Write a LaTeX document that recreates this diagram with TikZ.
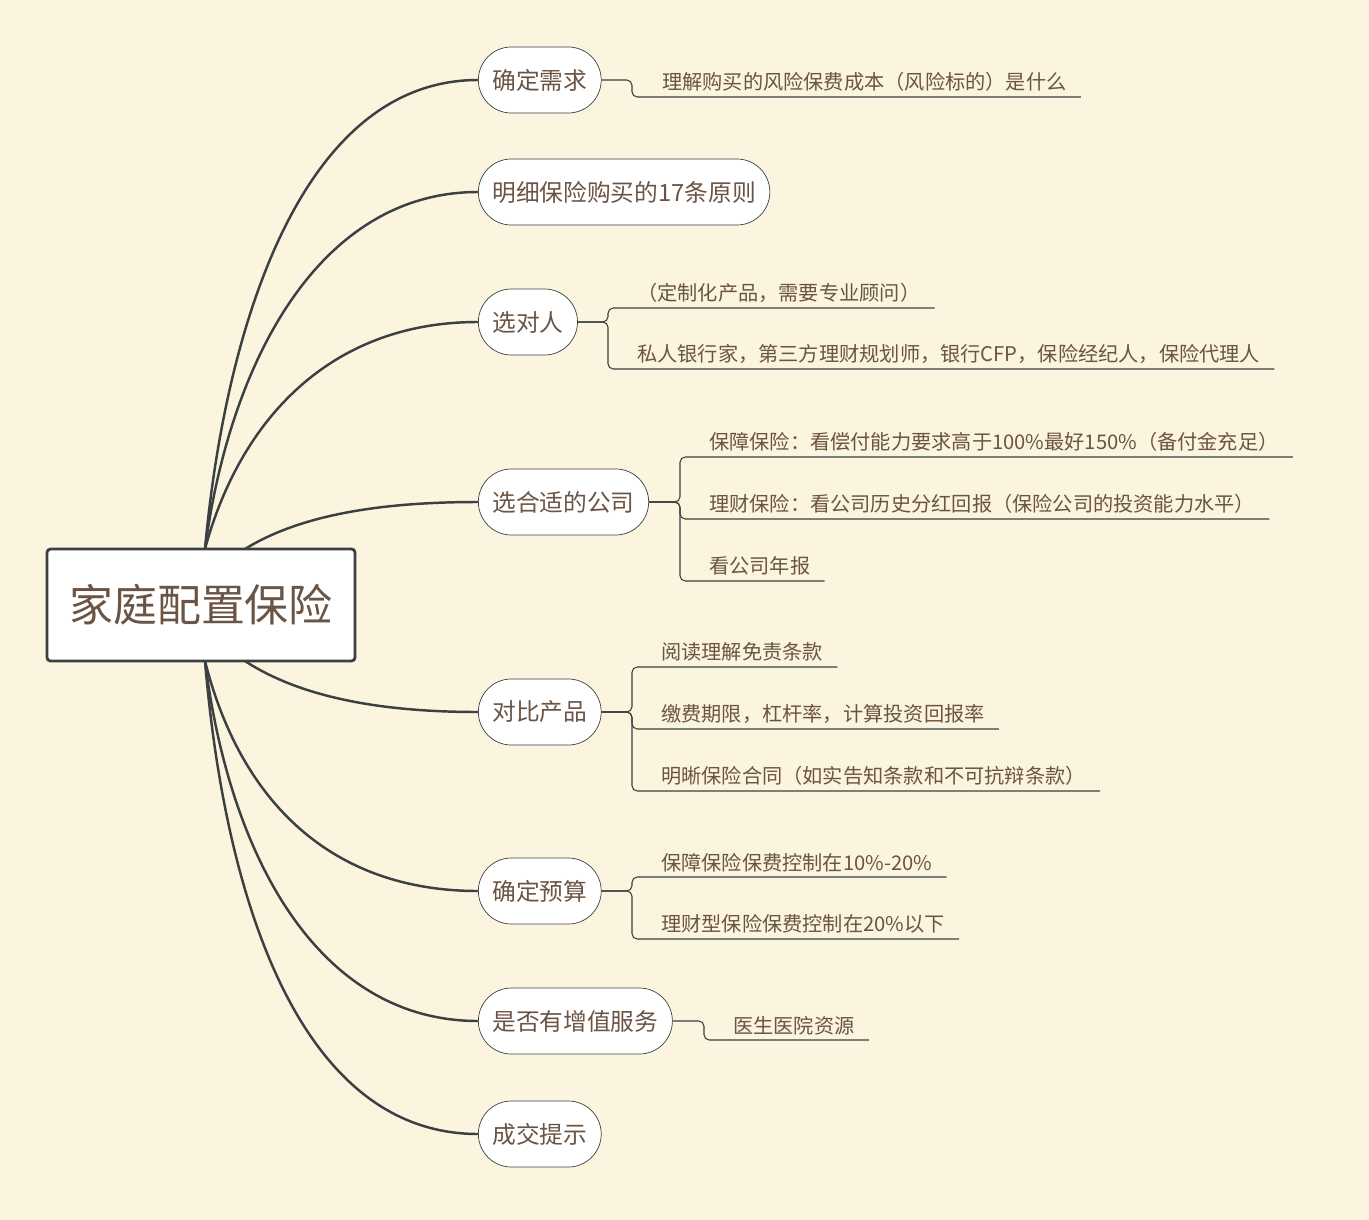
\documentclass[tikz,border=0pt]{standalone}
\usepackage{fontspec}
\newfontfamily\cjk{Noto Sans CJK SC}
\usetikzlibrary{calc}
\definecolor{bgcol}{HTML}{FBF4DE}
\definecolor{inkcol}{HTML}{3C4043}
\definecolor{txtcol}{HTML}{6B5443}
\begin{document}
\begin{tikzpicture}[x=0.02cm,y=-0.02cm,
  topic/.style={draw=inkcol,fill=white,rounded corners=33*0.02cm,minimum height=66*0.02cm,
    inner xsep=14*0.02cm,text=txtcol,font=\cjk\fontsize{13.5}{16}\selectfont,anchor=west},
  leaf/.style={anchor=south west,inner xsep=0pt,inner ysep=5*0.02cm,text=txtcol,
    font=\cjk\fontsize{11.5}{14}\selectfont},
  branch/.style={draw=inkcol,line width=1.4pt},
  link/.style={draw=inkcol,line width=0.6pt,rounded corners=3pt}]
  % Background
  \fill[bgcol] (0,0) rectangle (1369,1220);
  \useasboundingbox (0,0) rectangle (1369,1220);

  % Root
  \node[draw=inkcol,line width=1.6pt,fill=white,rounded corners=2pt,minimum width=308*0.02cm,
    minimum height=112*0.02cm,text=txtcol,font=\cjk\fontsize{25}{30}\selectfont] (root) at (201,605) {家庭配置保险};

  % Topics
  \node[topic] (t1) at (478,80) {确定需求};
  \node[topic] (t2) at (478,192) {明细保险购买的17条原则};
  \node[topic] (t3) at (478,322) {选对人};
  \node[topic] (t4) at (478,502) {选合适的公司};
  \node[topic] (t5) at (478,712) {对比产品};
  \node[topic] (t6) at (478,891) {确定预算};
  \node[topic] (t7) at (478,1021) {是否有增值服务};
  \node[topic] (t8) at (478,1134) {成交提示};

  % Branches
  \draw[branch] (205,549) .. controls (225,330) and (300,80) .. (t1.west);
  \draw[branch] (205,549) .. controls (230,360) and (320,192) .. (t2.west);
  \draw[branch] (205,549) .. controls (240,420) and (330,322) .. (t3.west);
  \draw[branch] (245,549) .. controls (300,515) and (380,502) .. (t4.west);
  \draw[branch] (245,661) .. controls (300,697) and (380,712) .. (t5.west);
  \draw[branch] (205,661) .. controls (240,800) and (330,891) .. (t6.west);
  \draw[branch] (205,661) .. controls (230,860) and (320,1021) .. (t7.west);
  \draw[branch] (205,661) .. controls (225,900) and (300,1134) .. (t8.west);

  % Leaves
  \node[leaf] (l1a) at (662,97) {理解购买的风险保费成本（风险标的）是什么};
  \node[leaf] (l3a) at (637,308) {（定制化产品，需要专业顾问）};
  \node[leaf] (l3b) at (637,369) {私人银行家，第三方理财规划师，银行CFP，保险经纪人，保险代理人};
  \node[leaf] (l4a) at (709,457) {保障保险：看偿付能力要求高于100\%最好150\%（备付金充足）};
  \node[leaf] (l4b) at (709,519) {理财保险：看公司历史分红回报（保险公司的投资能力水平）};
  \node[leaf] (l4c) at (709,581) {看公司年报};
  \node[leaf] (l5a) at (661,667) {阅读理解免责条款};
  \node[leaf] (l5b) at (661,729) {缴费期限，杠杆率，计算投资回报率};
  \node[leaf] (l5c) at (661,791) {明晰保险合同（如实告知条款和不可抗辩条款）};
  \node[leaf] (l6a) at (661,877) {保障保险保费控制在10\%-20\%};
  \node[leaf] (l6b) at (661,939) {理财型保险保费控制在20\%以下};
  \node[leaf] (l7a) at (733,1040) {医生医院资源};

  % Links
  \foreach \t/\bx/\l in {t1/632/l1a,t3/608/l3a,t3/608/l3b,t4/680/l4a,t4/680/l4b,t4/680/l4c,
      t5/632/l5a,t5/632/l5b,t5/632/l5c,t6/632/l6a,t6/632/l6b,t7/704/l7a}
    \draw[link] (\t.east) -- (\bx,0 |- \t.east) |- ($(\l.south east)+(14,0)$);
\end{tikzpicture}
\end{document}
